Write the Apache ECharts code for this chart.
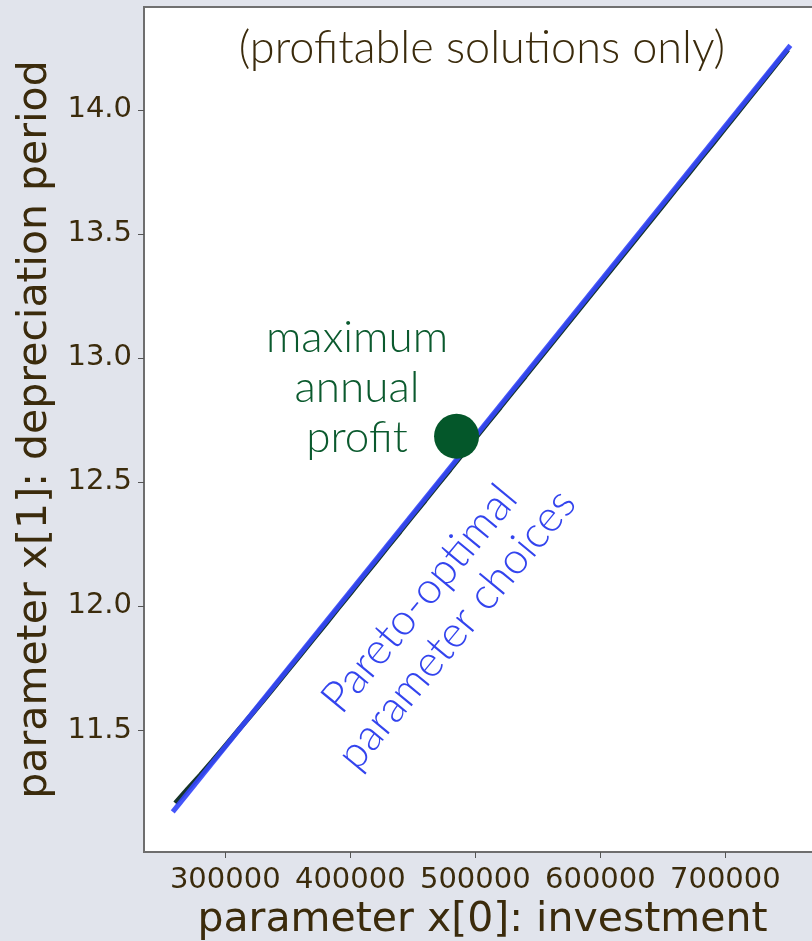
<!DOCTYPE html>
<html>
<head>
<meta charset="utf-8">
<script src="https://cdn.jsdelivr.net/npm/echarts@6/dist/echarts.min.js"></script>
<style>
  html, body { margin: 0; padding: 0; background: #e1e4ec; overflow: hidden; }
  #wrap { width: 812px; height: 941px; overflow: hidden; }
  #chart { width: 832px; height: 941px; }
</style>
</head>
<body>
<div id="wrap"><div id="chart"></div></div>
<script>
// Sampled Pareto front: investment vs. depreciation period
const frontInvestment = [
  260000, 270000, 280000, 290000, 300000, 310000, 320000, 330000, 340000, 350000,
  360000, 370000, 380000, 390000, 400000, 410000, 420000, 430000, 440000, 450000,
  460000, 470000, 480000, 490000, 500000, 510000, 520000, 530000, 540000, 550000,
  560000, 570000, 580000, 590000, 600000, 610000, 620000, 630000, 640000, 650000,
  660000, 670000, 680000, 690000, 700000, 710000, 720000, 730000, 740000, 750000
];
const frontDepreciation = [
  11.205, 11.262, 11.318, 11.376, 11.436, 11.496, 11.556, 11.616, 11.678, 11.740,
  11.802, 11.864, 11.926, 11.989, 12.051, 12.114, 12.176, 12.239, 12.301, 12.364,
  12.426, 12.489, 12.551, 12.614, 12.676, 12.739, 12.801, 12.864, 12.926, 12.989,
  13.051, 13.114, 13.176, 13.239, 13.301, 13.364, 13.426, 13.489, 13.551, 13.614,
  13.677, 13.739, 13.802, 13.864, 13.927, 13.990, 14.053, 14.116, 14.179, 14.243
];

// Linear trend through the front
const trendInvestment = [258000, 752000];
const trendDepreciation = [11.17, 14.26];

// Point of maximum annual profit
const bestInvestment = [485000];
const bestDepreciation = [12.684];

const xTicks = [300000, 400000, 500000, 600000, 700000];
const yTicks = [11.5, 12.0, 12.5, 13.0, 13.5, 14.0];

const zip = (a, b) => a.map((v, i) => [v, b[i]]);

const textColor = '#3b2b0c';
const axisFont = 'DejaVu Sans';
const noteFont = 'Lato';

const chart = echarts.init(document.getElementById('chart'), null, { renderer: 'canvas' });

// plot frame runs past the right edge of the visible page
chart.setOption({
  backgroundColor: '#e1e4ec',
  animation: false,
  grid: { left: 144, top: 7, bottom: 89, right: 11, show: true, backgroundColor: '#ffffff',
    borderWidth: 2, borderColor: '#707070', outerBoundsMode: 'none', containLabel: false },
  xAxis: {
    type: 'value',
    min: 235000,
    max: 776500,
    interval: 100000,
    name: 'parameter x[0]: investment',
    nameLocation: 'middle',
    nameGap: 45,
    nameTextStyle: { fontFamily: axisFont, fontSize: 41, color: textColor },
    axisLine: { show: true, onZero: false, lineStyle: { color: '#6e6e6e', width: 2 } },
    axisTick: { show: true, length: 6, lineStyle: { color: '#555', width: 1 },
      customValues: xTicks },
    axisLabel: { fontFamily: axisFont, fontSize: 29, color: textColor, margin: 14,
      customValues: xTicks, formatter: v => String(v) },
    splitLine: { show: false }
  },
  yAxis: {
    type: 'value',
    min: 11.008,
    max: 14.415,
    name: 'parameter x[1]: depreciation period',
    nameLocation: 'middle',
    nameGap: 88,
    nameRotate: 90,
    nameTextStyle: { fontFamily: axisFont, fontSize: 41, color: textColor },
    axisLine: { show: true, onZero: false, lineStyle: { color: '#6e6e6e', width: 2 } },
    axisTick: { show: true, length: 6, lineStyle: { color: '#555', width: 1 },
      customValues: yTicks },
    axisLabel: { fontFamily: axisFont, fontSize: 29, color: textColor, margin: 12,
      customValues: yTicks, formatter: v => v.toFixed(1) },
    splitLine: { show: false }
  },
  series: [
    {
      name: 'front',
      type: 'line',
      data: zip(frontInvestment, frontDepreciation),
      showSymbol: false,
      lineStyle: { color: '#16352a', width: 5 },
      z: 2
    },
    {
      name: 'trend',
      type: 'line',
      data: zip(trendInvestment, trendDepreciation),
      showSymbol: false,
      lineStyle: { color: 'rgba(52,70,248,0.92)', width: 5 },
      z: 3
    },
    {
      name: 'best',
      type: 'scatter',
      data: zip(bestInvestment, bestDepreciation),
      symbolSize: 45,
      itemStyle: { color: '#04572a', opacity: 1 },
      z: 4
    }
  ],
  graphic: [
    {
      type: 'text', x: 482, y: 48,
      style: { text: '(profitable solutions only)', font: '300 45px ' + noteFont,
        fill: textColor, align: 'center', verticalAlign: 'middle' }
    },
    {
      type: 'text', x: 357, y: 388,
      style: { text: 'maximum\nannual\nprofit', font: '300 44px ' + noteFont, lineHeight: 50,
        fill: '#0b5a2e', align: 'center', verticalAlign: 'middle' }
    },
    {
      type: 'text', x: 438, y: 614, rotation: 50.5 * Math.PI / 180,
      style: { text: 'Pareto-optimal\nparameter choices', font: '300 44px ' + noteFont, lineHeight: 48,
        fill: '#3344ee', align: 'center', verticalAlign: 'middle' }
    }
  ]
});
</script>
</body>
</html>
